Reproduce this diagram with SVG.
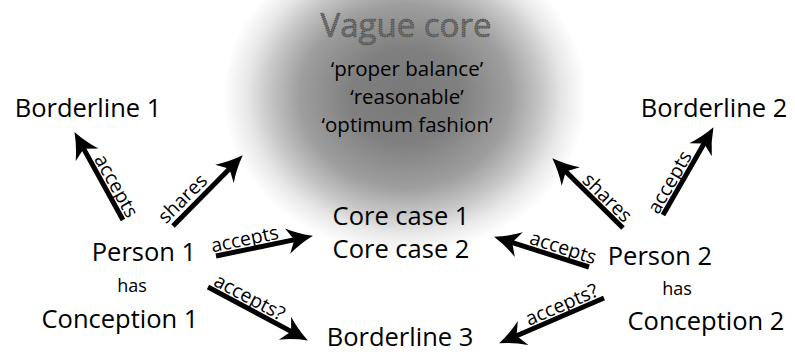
<svg xmlns="http://www.w3.org/2000/svg" width="795" height="354" viewBox="0 0 795 354">
<defs>
<radialGradient id="fog">
<stop offset="0" stop-color="#000" stop-opacity="0.53"/>
<stop offset="0.3" stop-color="#000" stop-opacity="0.5"/>
<stop offset="0.58" stop-color="#000" stop-opacity="0.38"/>
<stop offset="0.75" stop-color="#000" stop-opacity="0.22"/>
<stop offset="0.87" stop-color="#000" stop-opacity="0.09"/>
<stop offset="1" stop-color="#000" stop-opacity="0"/>
</radialGradient>
<marker id="ah" markerUnits="userSpaceOnUse" viewBox="0 -14 28 28" markerWidth="28" markerHeight="28" refX="10" refY="0" orient="auto">
<path d="M0,-13 Q12,-5 26,0 Q12,5 0,13 L7,0 Z" fill="#000"/>
</marker>
<style>
text{font-family:"Open Sans","Noto Sans","Liberation Sans",sans-serif;fill:#000;text-anchor:middle}
.big{font-size:25.5px}
.q{font-size:20.5px}
.has{font-size:18px}
.lbl{font-size:19.5px}
.vc{font-size:33px;fill:#6c6c6c;stroke:#2a2a2a;stroke-width:0.7;stroke-dasharray:1 1.3}
.arr{stroke:#000;stroke-width:5;fill:none;marker-end:url(#ah)}
</style>
</defs>
<rect width="795" height="354" fill="#fff"/>
<ellipse id="fogarea" cx="405" cy="96" rx="182" ry="158" fill="url(#fog)"/>

<g id="vague-core">
<text class="vc" x="406" y="37">Vague core</text>
<text class="q" x="407" y="76">‘proper balance’</text>
<text class="q" x="407" y="104">‘reasonable’</text>
<text class="q" x="407" y="132">‘optimum fashion’</text>
</g>
<g id="borderline1"><text class="big" x="88" y="117">Borderline 1</text></g>
<g id="borderline2"><text class="big" x="714" y="117">Borderline 2</text></g>
<g id="borderline3"><text class="big" x="400" y="346">Borderline 3</text></g>
<g id="corecases">
<text class="big" x="401" y="225">Core case 1</text>
<text class="big" x="401" y="258">Core case 2</text>
</g>
<g id="person1">
<text class="big" x="144" y="261">Person 1</text>
<text class="has" x="132" y="292">has</text>
<text class="big" x="120" y="328">Conception 1</text>
</g>
<g id="person2">
<text class="big" x="660" y="265">Person 2</text>
<text class="has" x="677" y="295">has</text>
<text class="big" x="706" y="330">Conception 2</text>
</g>

<g id="connectors">
<line class="arr" x1="123" y1="220" x2="82.2" y2="146.1"/>
<line class="arr" x1="173" y1="226" x2="231.5" y2="166.7"/>
<line class="arr" x1="216" y1="256" x2="297.3" y2="239.1"/>
<line class="arr" x1="208" y1="287" x2="293.8" y2="332.9"/>
<line class="arr" x1="623" y1="228" x2="563.7" y2="169.5"/>
<line class="arr" x1="663" y1="215" x2="705.5" y2="141"/>
<line class="arr" x1="589" y1="267" x2="509.3" y2="241.6"/>
<line class="arr" x1="604" y1="298" x2="513.8" y2="337"/>
<text class="lbl" transform="translate(110.5,189) rotate(61)">accepts</text>
<text class="lbl" transform="translate(187.2,203.2) rotate(-45)">shares</text>
<text class="lbl" transform="translate(246,245.6) rotate(-11.8)">accepts</text>
<text class="lbl" transform="translate(246.5,303.1) rotate(28)">accepts?</text>
<text class="lbl" transform="translate(602.7,202.4) rotate(44.6)">shares</text>
<text class="lbl" transform="translate(675.3,185.5) rotate(-60)">accepts</text>
<text class="lbl" transform="translate(561.2,253.9) rotate(17.7)">accepts</text>
<text class="lbl" transform="translate(564.4,310.7) rotate(-23.4)">accepts?</text>
</g>
</svg>
